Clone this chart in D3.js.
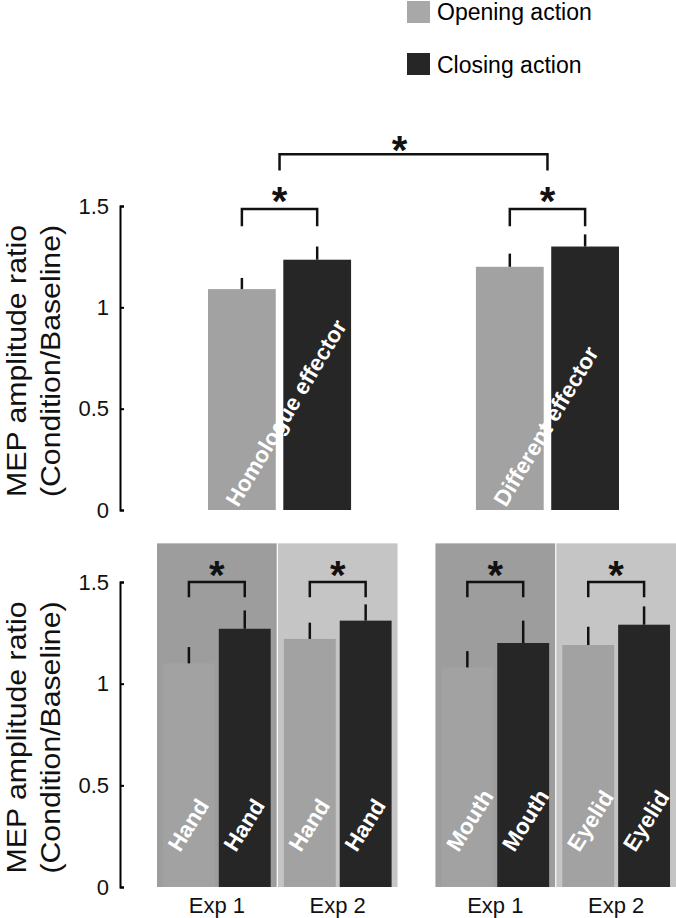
<!DOCTYPE html>
<html>
<head>
<meta charset="utf-8">
<script src="https://cdn.jsdelivr.net/npm/d3@7"></script>
<style>
  body { margin: 0; background: #fff; }
  text { font-family: "Liberation Sans", Arial, sans-serif; }
</style>
</head>
<body>
<div id="chart"></div>
<script>
// Data
var actions = ["Opening action", "Closing action"];

// top panel: pooled effectors
var topGroups = ["Homologue effector", "Different effector"];
var topOpening = [1.09, 1.20];
var topOpeningErr = [0.055, 0.065];
var topClosing = [1.235, 1.30];
var topClosingErr = [0.065, 0.06];

// bottom panel: per experiment
var pairGroups = ["homologue", "different"];
var expLabels = ["Exp 1", "Exp 2"];
var effectors = ["Hand", "Hand", "Mouth", "Eyelid"];
var botOpening = [1.10, 1.22, 1.08, 1.19];
var botOpeningErr = [0.08, 0.08, 0.08, 0.09];
var botClosing = [1.27, 1.31, 1.20, 1.29];
var botClosingErr = [0.09, 0.08, 0.11, 0.09];

var yTicks = [0, 0.5, 1, 1.5];

// Colours
var barColor = ["#a2a2a2", "#262626"];
var legendColor = ["#a8a8a8", "#262626"];
var bgColor = ["#9d9d9d", "#c5c5c5"];

var width = 676, height = 918, axisX = 120;

var svg = d3.select("#chart")
    .append("svg")
    .attr("width", width)
    .attr("height", height);

// Legend
var legend = svg.append("g");
actions.forEach(function (a, i) {
    legend.append("rect")
        .attr("x", 407).attr("y", 1 + i * 52)
        .attr("width", 23).attr("height", 22)
        .attr("fill", legendColor[i]);
    legend.append("text")
        .attr("x", 437).attr("y", 20 + i * 53)
        .attr("font-size", 23)
        .text(a);
});

// Helpers
function drawAxis(scale) {
    var g = svg.append("g")
        .attr("transform", "translate(" + axisX + ",0)")
        .call(d3.axisLeft(scale)
            .tickValues(yTicks)
            .tickFormat(d3.format("~g"))
            .tickSizeInner(-4)
            .tickSizeOuter(-4)
            .tickPadding(11));
    g.select(".domain").attr("stroke", "#000").attr("stroke-width", 2);
    g.selectAll(".tick line").attr("stroke", "#000").attr("stroke-width", 2);
    g.selectAll(".tick text")
        .attr("font-size", 22)
        .attr("fill", "#111")
        .style("font-family", "'Liberation Sans', Arial, sans-serif");

    var cy = (scale.range()[0] + scale.range()[1]) / 2 + 3;
    var lab = svg.append("g");
    [["MEP amplitude ratio", 26], ["(Condition/Baseline)", 60]].forEach(function (l) {
        lab.append("text")
            .attr("transform", "translate(" + l[1] + "," + cy + ") rotate(-90)")
            .attr("text-anchor", "middle")
            .attr("font-size", 28)
            .attr("textLength", 272)
            .attr("lengthAdjust", "spacingAndGlyphs")
            .attr("fill", "#111")
            .text(l[0]);
    });
}

function errLine(x, y, mean, err) {
    svg.append("line")
        .attr("x1", x).attr("x2", x)
        .attr("y1", y(mean)).attr("y2", y(mean + err))
        .attr("stroke", "#111")
        .attr("stroke-width", 2.5);
}

function bracket(x1, x2, y, level, legLevel) {
    svg.append("path")
        .attr("d", "M" + x1 + "," + y(legLevel) + "V" + y(level) + "H" + x2 + "V" + y(legLevel))
        .attr("fill", "none")
        .attr("stroke", "#111")
        .attr("stroke-width", 2.5);
}

function star(x, y, level) {
    svg.append("text")
        .attr("x", x).attr("y", y(level) + 23)
        .attr("text-anchor", "middle")
        .attr("font-size", 40)
        .attr("font-weight", "bold")
        .attr("fill", "#111")
        .text("*");
}

// ---------- Top panel ----------
var yTop = d3.scaleLinear().domain([0, 1.5]).range([510, 206]);
var xTop = d3.scaleBand().domain(topGroups).range([208, 619]).paddingInner(0.466);
var xTopSub = d3.scaleBand().domain(actions).range([0, xTop.bandwidth()]).paddingInner(0.1);

drawAxis(yTop);

var centersTop = [];
topGroups.forEach(function (grp, i) {
    var vals = [topOpening[i], topClosing[i]];
    var errs = [topOpeningErr[i], topClosingErr[i]];
    var cx = [];
    actions.forEach(function (a, j) {
        var x = xTop(grp) + xTopSub(a);
        svg.append("rect")
            .attr("x", x)
            .attr("y", yTop(vals[j]))
            .attr("width", xTopSub.bandwidth())
            .attr("height", yTop(0) - yTop(vals[j]))
            .attr("fill", barColor[j]);
        cx.push(x + xTopSub.bandwidth() / 2);
    });
    actions.forEach(function (a, j) { errLine(cx[j], yTop, vals[j], errs[j]); });
    svg.append("text")
        .attr("transform", "translate(" + (xTop(grp) + xTopSub(actions[0]) + 30) + ",508) rotate(-59)")
        .attr("font-size", 22.5)
        .attr("font-weight", "bold")
        .attr("fill", "#fff")
        .text(grp);
    bracket(cx[0], cx[1], yTop, 1.485, 1.40);
    star((cx[0] + cx[1]) / 2, yTop, 1.57);
    centersTop.push(xTop(grp) + xTop.bandwidth() / 2);
});
bracket(centersTop[0], centersTop[1], yTop, 1.755, 1.675);
star((centersTop[0] + centersTop[1]) / 2 - 14, yTop, 1.82);

// ---------- Bottom panel ----------
var yBot = d3.scaleLinear().domain([0, 1.5]).range([887, 582]);
var xPair = d3.scaleBand().domain(pairGroups).range([157, 676]).paddingInner(0.136);
var xExp = d3.scaleBand().domain(expLabels).range([0, xPair.bandwidth()]).paddingInner(0.01);
var xBotSub = d3.scaleBand().domain(actions).range([0, xExp.bandwidth()])
    .paddingInner(0.071).paddingOuter(0.107);

effectors.forEach(function (eff, i) {
    var x0 = xPair(pairGroups[Math.floor(i / 2)]) + xExp(expLabels[i % 2]);
    svg.append("rect")
        .attr("x", x0)
        .attr("y", yBot(1.69))
        .attr("width", xExp.bandwidth())
        .attr("height", yBot(0) - yBot(1.69))
        .attr("fill", bgColor[i % 2]);
    svg.append("text")
        .attr("x", x0 + xExp.bandwidth() / 2)
        .attr("y", 913)
        .attr("text-anchor", "middle")
        .attr("font-size", 22)
        .attr("fill", "#111")
        .text(expLabels[i % 2]);
});

drawAxis(yBot);

effectors.forEach(function (eff, i) {
    var x0 = xPair(pairGroups[Math.floor(i / 2)]) + xExp(expLabels[i % 2]);
    var vals = [botOpening[i], botClosing[i]];
    var errs = [botOpeningErr[i], botClosingErr[i]];
    var cx = [];
    actions.forEach(function (a, j) {
        var x = x0 + xBotSub(a);
        svg.append("rect")
            .attr("x", x)
            .attr("y", yBot(vals[j]))
            .attr("width", xBotSub.bandwidth())
            .attr("height", yBot(0) - yBot(vals[j]))
            .attr("fill", barColor[j]);
        svg.append("text")
            .attr("transform", "translate(" + (x + 17) + ",853) rotate(-58)")
            .attr("font-size", 22.5)
            .attr("font-weight", "bold")
            .attr("fill", "#fff")
            .text(eff);
        cx.push(x + xBotSub.bandwidth() / 2);
    });
    actions.forEach(function (a, j) { errLine(cx[j], yBot, vals[j], errs[j]); });
    bracket(cx[0], cx[1], yBot, 1.50, 1.425);
    star((cx[0] + cx[1]) / 2, yBot, 1.58);
});
</script>
</body>
</html>
